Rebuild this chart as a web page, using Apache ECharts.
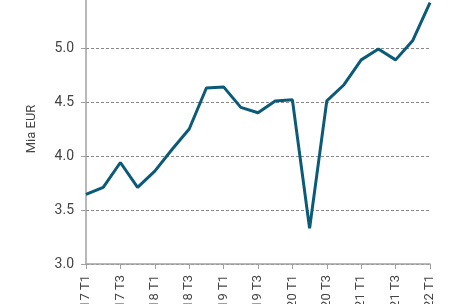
<!DOCTYPE html>
<html><head><meta charset="utf-8">
<script src="https://cdn.jsdelivr.net/npm/echarts@6/dist/echarts.min.js"></script>
<style>html,body{margin:0;padding:0;background:#fff}#c{width:456px;height:304px}</style>
</head><body><div id="c"></div>
<script>
const categories = ["2017 T1","2017 T2","2017 T3","2017 T4","2018 T1","2018 T2","2018 T3","2018 T4","2019 T1","2019 T2","2019 T3","2019 T4","2020 T1","2020 T2","2020 T3","2020 T4","2021 T1","2021 T2","2021 T3","2021 T4","2022 T1"];
const values = [3.645,3.71,3.94,3.71,3.86,4.06,4.25,4.63,4.64,4.45,4.40,4.51,4.52,3.33,4.51,4.66,4.89,4.99,4.89,5.07,5.42];
const yTicks = [3.0,3.5,4.0,4.5,5.0];
const yName = "Mia EUR";
const chart = echarts.init(document.getElementById('c'), null, {renderer:'canvas'});
chart.setOption({
  animation:false,
  grid:{left:86,right:26,top:-6,bottom:40,containLabel:false,outerBoundsMode:'none'},
  xAxis:{type:'category',data:categories,boundaryGap:false,
    axisLine:{lineStyle:{color:'#a0a0a0',width:1.5}},
    axisTick:{interval:1,length:5,lineStyle:{color:'#a0a0a0'}},
    axisLabel:{interval:1,rotate:90,margin:11,color:'#444',fontSize:13,fontFamily:'Roboto'}},
  yAxis:{type:'value',min:3,max:5.5,interval:0.5,name:yName,nameLocation:'middle',nameGap:48,
    nameTextStyle:{color:'#444',fontSize:13,fontFamily:'Roboto'},
    axisLine:{show:true,lineStyle:{color:'#a0a0a0',width:1.5}},
    axisTick:{show:true,length:5,lineStyle:{color:'#a0a0a0'}},
    axisLabel:{margin:12,color:'#444',fontSize:14,fontFamily:'Roboto',
      formatter:v=>yTicks.indexOf(v)>=0?v.toFixed(1):''},
    splitLine:{show:true,lineStyle:{color:'#888',type:[3,2],width:1}}},
  series:[{type:'line',data:values,symbol:'none',lineStyle:{color:'#0a5a78',width:3},itemStyle:{color:'#0a5a78'}}]
});
</script></body></html>
